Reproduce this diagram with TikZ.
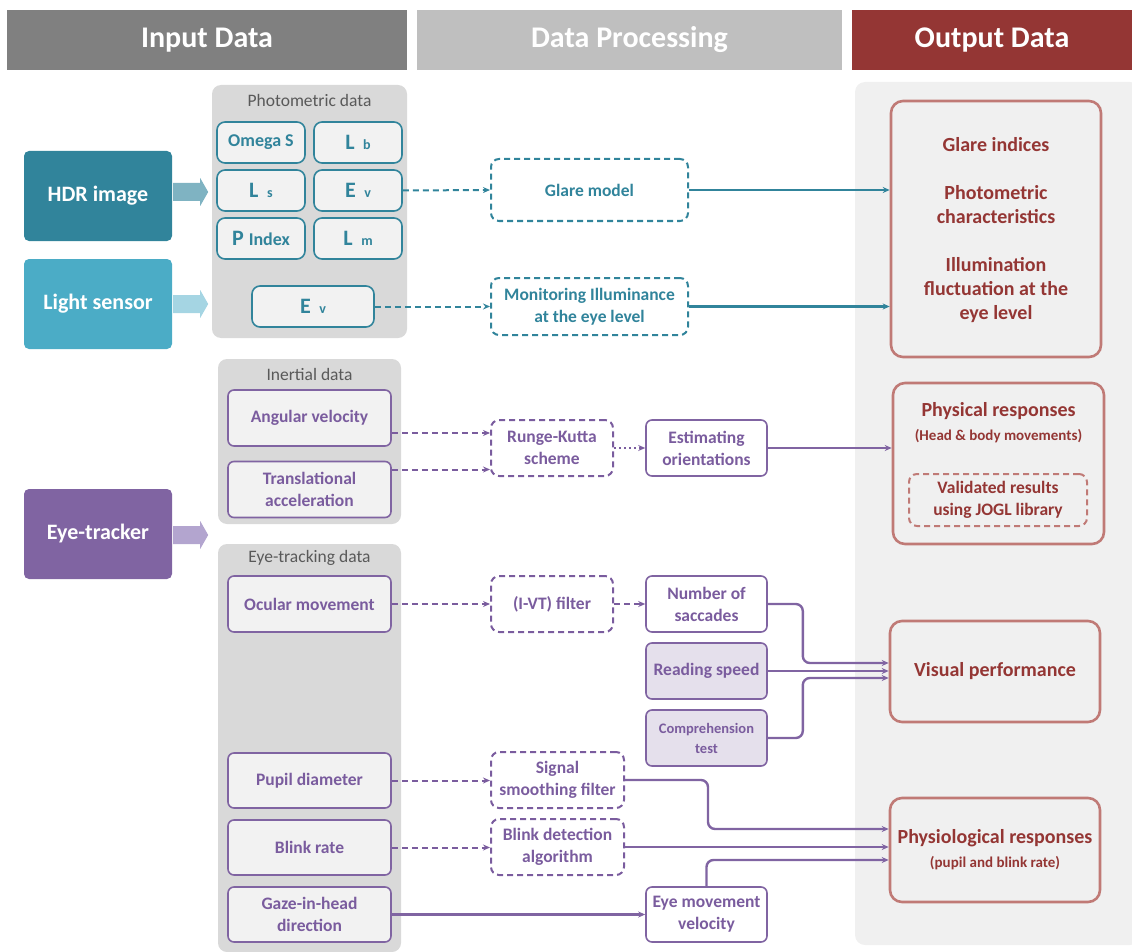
\documentclass[tikz,border=0pt]{standalone}
\usepackage{fontspec}
\setmainfont{Carlito}
\usetikzlibrary{arrows.meta,calc}
\definecolor{tealdark}{HTML}{31849B}
\definecolor{teallight}{HTML}{4BACC6}
\definecolor{purp}{HTML}{8064A2}
\definecolor{purptext}{HTML}{7A5C9E}
\definecolor{redtext}{HTML}{943634}
\definecolor{redline}{HTML}{C07A76}
\definecolor{hdrgray}{HTML}{808080}
\definecolor{hdrlight}{HTML}{BFBFBF}
\definecolor{grp}{HTML}{D9D9D9}
\definecolor{cell}{HTML}{F2F2F2}
\definecolor{outbg}{HTML}{F0F0F0}
\definecolor{lilac}{HTML}{E5E0EC}
\definecolor{titlegray}{HTML}{595959}
\definecolor{arrA}{HTML}{7FB3C2}
\definecolor{arrB}{HTML}{A5D5E3}
\definecolor{arrC}{HTML}{B3A5CF}
\newcommand\fsz[2]{\fontsize{#1}{#2}\selectfont}
\newcommand\blockarrow[3]{%
  \fill[#2] ([shift={(1pt,#3)}]#1.east) ++(0,9pt) -- ++(27pt,0) -- ++(0,5pt)
    -- ++(8pt,-14pt) -- ++(-8pt,-14pt) -- ++(0,5pt) -- ++(-27pt,0) -- cycle;}
\tikzset{
  header/.style={fill=#1, text=white, minimum height=60pt, inner sep=0pt,
    font=\fsz{30}{32}\bfseries},
  source/.style={fill=#1, text=white, rounded corners=5pt, minimum width=148pt,
    minimum height=90pt, inner sep=0pt, font=\fsz{22}{26}\bfseries},
  group/.style={fill=grp, rounded corners=9pt, inner sep=0pt},
  grouptitle/.style={text=titlegray, font=\fsz{17.5}{19}},
  tcell/.style={draw=tealdark, line width=1.6pt, fill=cell, rounded corners=8pt,
    text=tealdark, minimum width=88pt, minimum height=41pt, inner sep=0pt,
    font=\fsz{18}{20}\bfseries},
  pcell/.style={draw=purp, line width=1.6pt, fill=#1, rounded corners=6pt,
    text=purptext, minimum width=163pt, minimum height=56pt, inner sep=0pt,
    align=center, font=\fsz{17.5}{22}\bfseries},
  pcell/.default=cell,
  dbox/.style={draw=#1, line width=2pt, dash pattern=on 6pt off 4pt,
    rounded corners=8pt, text=#1, inner sep=0pt, align=center,
    font=\fsz{17.5}{22}\bfseries},
  outbox/.style={draw=redline, line width=2.6pt, rounded corners=12pt,
    text=redtext, inner sep=0pt, align=center, font=\fsz{20}{24}\bfseries},
  outtext/.style={text=redtext, font=\fsz{20}{24}\bfseries, align=center},
  outsmall/.style={text=redtext, font=\fsz{15}{17}\bfseries},
  tip/.style={-{Stealth[length=7pt,width=6pt]}},
  dline/.style={tip, draw=#1, line width=2pt, dash pattern=on 6pt off 4pt},
  sline/.style={tip, draw=#1, line width=2.4pt, rounded corners=7pt},
}
\begin{document}
\begin{tikzpicture}[x=1pt, y=-1pt]
\useasboundingbox (0,0) rectangle (1132,952);

% column headers
\node[header=hdrgray, minimum width=400pt] (hin) at (207,40) {Input Data};
\node[header=hdrlight, minimum width=425pt] (hproc) at (629.5,40) {Data Processing};
\node[header=redtext, minimum width=280pt] (hout) at (992,40) {Output Data};

% output column background
\fill[outbg, rounded corners=10pt] (855,82) rectangle (1140,945);

% sources
\node[source=tealdark] (hdr) at (98,196) {HDR image};
\node[source=teallight] (light) at (98,304) {Light sensor};
\node[source=purp] (eye) at (98,534) {Eye-tracker};
\blockarrow{hdr}{arrA}{4pt}
\blockarrow{light}{arrB}{0pt}
\blockarrow{eye}{arrC}{-1pt}

% photometric data
\node[group, minimum width=195pt, minimum height=253pt] (photo) at (309.5,211.5) {};
\node[grouptitle] (phototitle) at (309.5,100) {Photometric data};
\node[tcell] (omega) at (261,142.5) {Omega S};
\node[tcell] (lb) at (358,142.5) {\fsz{22}{22}L\, \fsz{14}{16}b};
\node[tcell] (ls) at (261,190.5) {\fsz{22}{22}L\, \fsz{14}{16}s};
\node[tcell] (ev) at (358,190.5) {\fsz{22}{22}E\, \fsz{14}{16}v};
\node[tcell] (pidx) at (261,238.5) {\fsz{22}{22}P \fsz{18}{18}Index};
\node[tcell] (lm) at (358,238.5) {\fsz{22}{22}L\, \fsz{14}{16}m};
\node[tcell, minimum width=122pt] (evs) at (313,306.5) {\fsz{22}{22}E\, \fsz{14}{16}v};

% inertial data
\node[group, minimum width=183pt, minimum height=165pt] (inert) at (309.5,441.5) {};
\node[grouptitle] (inerttitle) at (309.5,374) {Inertial data};
\node[pcell] (ang) at (309.5,418) {Angular velocity};
\node[pcell] (trans) at (309.5,489.5) {Translational\\acceleration};

% eye-tracking data
\node[group, minimum width=183pt, minimum height=408pt] (eyed) at (309.5,748) {};
\node[grouptitle] (eyedtitle) at (309.5,558) {Eye-tracking data};
\node[pcell] (ocular) at (309.5,604) {Ocular movement};
\node[pcell, minimum height=55pt] (pupil) at (309.5,780.5) {Pupil diameter};
\node[pcell, minimum height=55pt] (blink) at (309.5,847.5) {Blink rate};
\node[pcell, minimum height=55pt] (gaze) at (309.5,914.5) {Gaze-in-head\\direction};

% processing
\node[dbox=tealdark, minimum width=197pt, minimum height=62pt] (glare) at (589.5,190) {Glare model};
\node[dbox=tealdark, minimum width=197pt, minimum height=57pt] (monit) at (589.5,306.5) {Monitoring Illuminance\\at the eye level};
\node[dbox=purptext, minimum width=122pt, minimum height=56pt] (runge) at (552,448) {Runge-Kutta\\scheme};
\node[pcell=white, minimum width=121pt] (estim) at (706.5,448) {Estimating\\orientations};
\node[dbox=purptext, minimum width=122pt, minimum height=56pt] (ivt) at (552,604) {(I-VT) filter};
\node[pcell=white, minimum width=121pt] (nsac) at (706.5,604) {Number of\\saccades};
\node[pcell=lilac, minimum width=121pt] (read) at (706.5,671) {Reading speed};
\node[pcell=lilac, minimum width=121pt, font=\fsz{14.5}{20}\bfseries] (comp) at (706.5,738) {Comprehension\\test};
\node[dbox=purptext, minimum width=133pt, minimum height=56pt] (signal) at (557.5,780) {Signal\\smoothing filter};
\node[dbox=purptext, minimum width=133pt, minimum height=56pt] (blinkd) at (557.5,847) {Blink detection\\algorithm};
\node[pcell=white, minimum width=121pt, minimum height=55pt] (eyemv) at (706.5,914.5) {Eye movement\\velocity};

% outputs
\node[outbox, minimum width=210pt, minimum height=256pt] (out1) at (996,229) {};
\node[outtext] (o1a) at (996,145) {Glare indices};
\node[outtext] (o1b) at (996,205) {Photometric\\characteristics};
\node[outtext] (o1c) at (996,290) {Illumination\\fluctuation at the\\eye level};
\node[outbox, minimum width=211pt, minimum height=161pt] (out2) at (998.5,463.5) {};
\node[outtext] (o2a) at (998.5,411) {Physical responses};
\node[outsmall] (o2b) at (998.5,436) {(Head \& body movements)};
\node[dbox=redline, text=redtext, minimum width=178pt, minimum height=52pt,
  font=\fsz{17.5}{22}\bfseries] (jogl) at (998,500) {Validated results\\using JOGL library};
\node[outbox, minimum width=210pt, minimum height=101pt] (vis) at (995,671.5) {Visual performance};
\node[outbox, minimum width=210pt, minimum height=104pt] (phys) at (995,850) {};
\node[outtext] (o4a) at (995,838) {Physiological responses};
\node[outsmall] (o4b) at (995,863) {(pupil and blink rate)};

% connectors: photometric path
\draw[dline=tealdark] (ev.east) -- (glare.west);
\draw[dline=tealdark] (evs.east) -- (evs.east -| monit.west);
\draw[sline=tealdark] (glare.east) -- (glare.east -| out1.west);
\draw[sline=tealdark] (monit.east) -- (monit.east -| out1.west);

% connectors: inertial path
\draw[dline=purptext] ([yshift=-15pt]ang.east) -- ([yshift=-15pt]ang.east -| runge.west);
\draw[dline=purptext] ([yshift=20pt]trans.east) -- ([yshift=20pt]trans.east -| runge.west);
\draw[tip, draw=purptext, line width=1.6pt, dash pattern=on 2pt off 3pt] (runge.east) -- (estim.west);
\draw[sline=purp] (estim.east) -- (estim.east -| out2.west);

% connectors: eye-tracking path
\draw[dline=purptext] (ocular.east) -- (ivt.west);
\draw[dline=purptext] (ivt.east) -- (nsac.west);
\draw[sline=purp] (nsac.east) -- ++(35,0) |- ([yshift=8.5pt]vis.west);
\draw[sline=purp] (read.east) -- (read.east -| vis.west);
\draw[sline=purp] (comp.east) -- ++(35,0) |- ([yshift=-6.5pt]vis.west);
\draw[dline=purptext] (pupil.east) -- (pupil.east -| signal.west);
\draw[dline=purptext] (blink.east) -- (blink.east -| blinkd.west);
\draw[sline=purp] (gaze.east) -- (gaze.east -| eyemv.west);
\draw[sline=purp] (signal.east) -- ++(83,0) |- ([yshift=21pt]phys.west);
\draw[sline=purp] (blinkd.east) -- (blinkd.east -| phys.west);
\draw[sline=purp] (eyemv.north) |- ([yshift=-10pt]phys.west);
\end{tikzpicture}
\end{document}
